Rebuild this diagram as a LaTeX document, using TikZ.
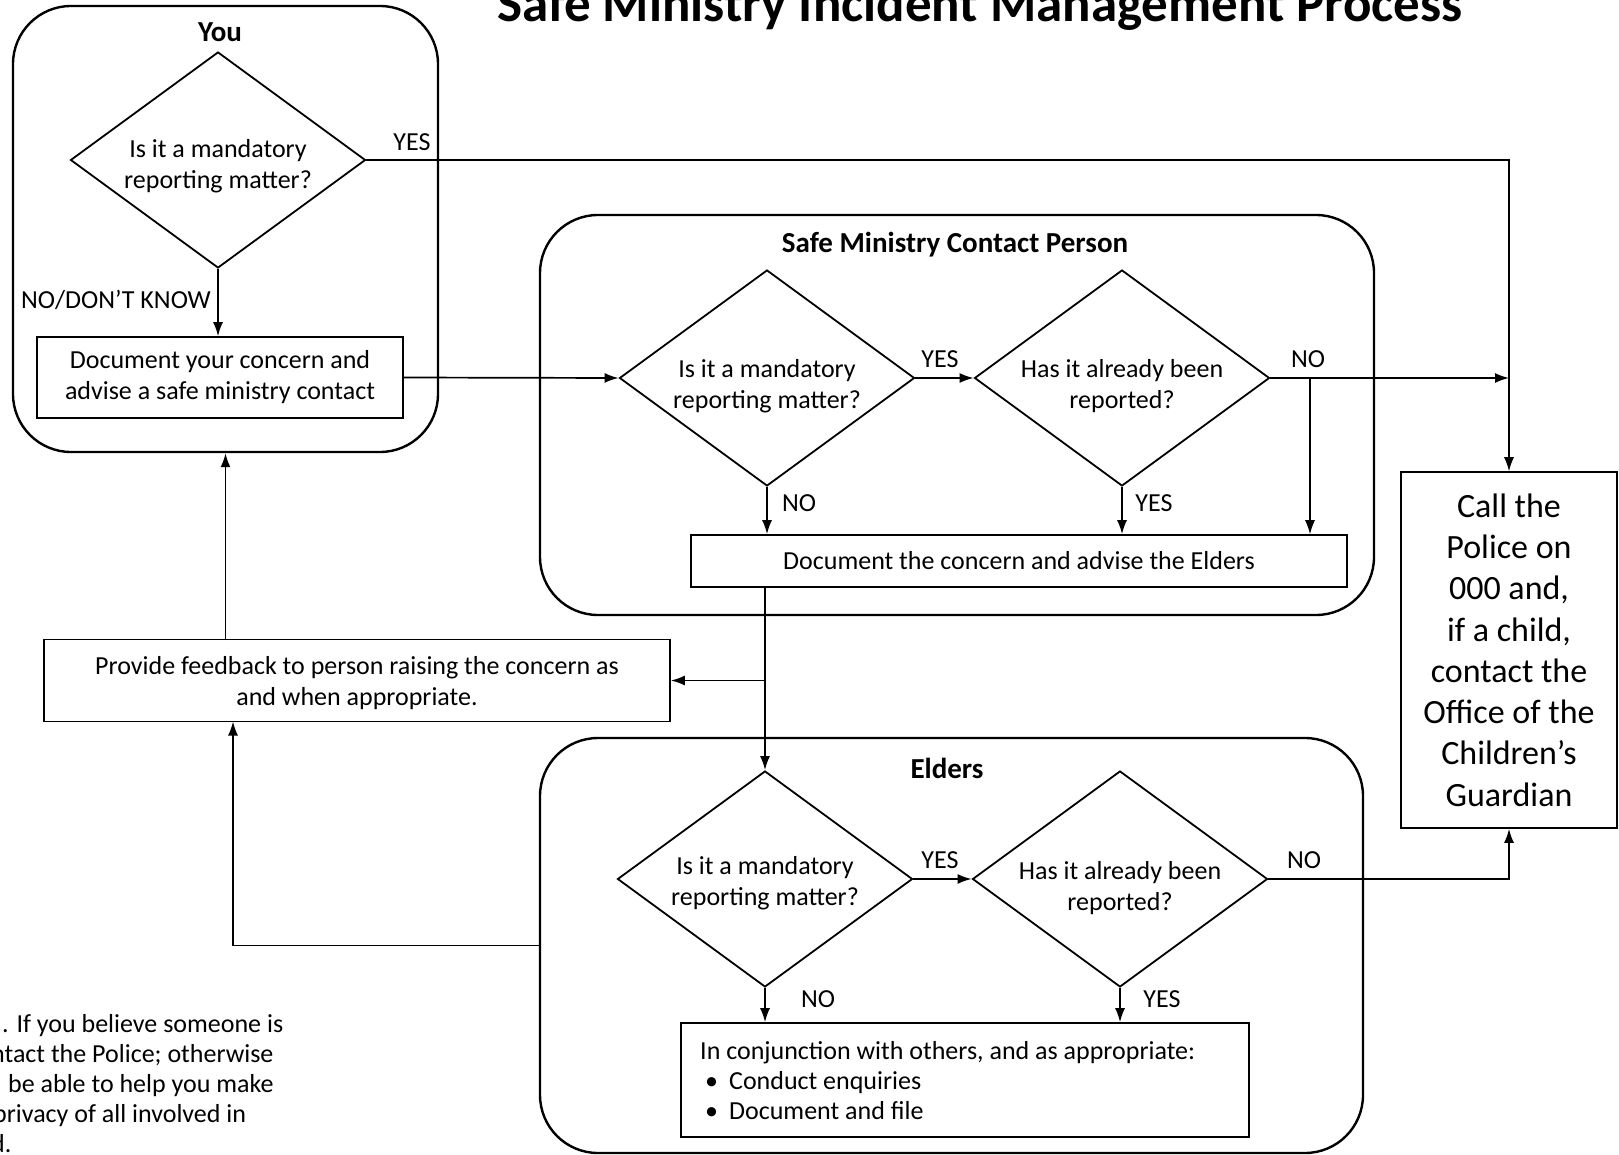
\documentclass[tikz,border=0pt]{standalone}
\usepackage{fontspec}
\setmainfont{Carlito}
\usetikzlibrary{shapes.geometric,arrows.meta}

\begin{document}
\begin{tikzpicture}[x=1pt,y=-1pt,
   every node/.style={inner sep=0pt,font=\fontsize{26}{31}\selectfont},
   lane/.style={draw,line width=2.4pt,rounded corners=58pt},
   box/.style={draw,line width=1.6pt,align=center},
   decision/.style={draw,diamond,line width=1.8pt,align=center,aspect=1.36,
      inner xsep=-20pt,minimum width=295pt,minimum height=216pt,text height=66pt},
   head/.style={font=\fontsize{29}{34}\selectfont\bfseries},
   conn/.style={line width=1.7pt,-{Latex[length=14pt,width=10pt]}},
   longconn/.style={line width=1.2pt,-{Latex[length=14pt,width=10pt]}}]

\clip (0,0) rectangle (1619,1155);
\fill[white] (0,0) rectangle (1619,1155);

\node[anchor=base,font=\fontsize{53}{60}\selectfont\bfseries] (title) at (980,22)
   {Safe Ministry Incident Management Process};

% swim lanes
\node[lane,minimum width=425pt,minimum height=446pt] (you) at (225.5,229) {};
\node[lane,minimum width=834pt,minimum height=400pt] (smcp) at (957,415) {};
\node[lane,minimum width=823pt,minimum height=415pt] (elders) at (951.5,945.5) {};
\node[head] (youhead) at (220,32) {You};
\node[head] (smcphead) at (955,245) {Safe Ministry Contact Person};
\node[head] (eldershead) at (947,768) {Elders};

% you
\node[decision,text height=62pt] (dY) at (218,160) {Is it a mandatory\\reporting matter?};
\node[box,minimum width=366pt,minimum height=81pt] (docY) at (220,377.5)
   {Document your concern and\\advise a safe ministry contact};

% safe ministry contact person
\node[decision] (dA) at (767,378) {Is it a mandatory\\reporting matter?};
\node[decision] (dB) at (1122,378) {Has it already been\\reported?};
\node[box,minimum width=656pt,minimum height=52pt] (docE) at (1019,561)
   {Document the concern and advise the Elders};
\coordinate (nojoin) at (1310,378);

% elders
\node[decision,text height=58pt] (dC) at (765,879) {Is it a mandatory\\reporting matter?};
\node[decision,text height=68pt] (dD) at (1120,879) {Has it already been\\reported?};
\node[box,minimum width=568pt,minimum height=114pt] (docL) at (965,1080) {};
\node[anchor=west,align=left,font=\fontsize{26}{30}\selectfont] (docLtext) at (700,1081)
   {In conjunction with others, and as appropriate:\\
    \hspace*{5pt}\textbullet\hspace{11pt}Conduct enquiries\\
    \hspace*{5pt}\textbullet\hspace{11pt}Document and file};

\node[box,minimum width=626pt,minimum height=82pt,text height=54pt] (fb) at (357,680.5)
   {Provide feedback to person raising the concern as\\and when appropriate.};
\coordinate (fbin) at (233,721.5);

\node[box,minimum width=216pt,minimum height=356pt,font=\fontsize{34}{41.3}\selectfont]
   (police) at (1509,650)
   {Call the\\Police on\\000 and,\\if a child,\\contact the\\Office of the\\Children’s\\Guardian};

% connectors
\draw[conn] (dY.south) -- (dY.south |- docY.north);
\draw[longconn] (dY.east) -| (police.north);
\draw[conn] (docY.east) -- (dA.west);
\draw[conn] (dA.east) -- (dB.west);
\draw[conn] (dB.east) -- (dB.east -| police.north);
\draw[longconn] (nojoin) -- (nojoin |- docE.north);
\draw[conn] (dA.south) -- (dA.south |- docE.north);
\draw[conn] (dB.south) -- (dB.south |- docE.north);
\draw[conn] (dC.north |- docE.south) -- (dC.north);
\draw[conn] (dC.north |- fb.east) -- (fb.east);
\draw[conn] (you.south |- fb.north) -- (you.south);
\draw[conn] (elders.west) -| (fbin);
\draw[conn] (dC.east) -- (dD.west);
\draw[conn] (dD.east) -| (police.south);
\draw[conn] (dC.south) -- (dC.south |- docL.north);
\draw[conn] (dD.south) -- (dD.south |- docL.north);

% labels
\node[anchor=east] (lnodk) at (211,300) {NO/DON’T KNOW};
\node (lyes1) at (412,142) {YES};
\node (lyes2) at (940,359) {YES};
\node (lno2) at (1308,359) {NO};
\node (lno3) at (799,503) {NO};
\node (lyes3) at (1154,503) {YES};
\node (lyes4) at (940,860) {YES};
\node (lno4) at (1304,860) {NO};
\node (lno5) at (818,999) {NO};
\node (lyes5) at (1162,999) {YES};

% note, cut at the left edge
\node[anchor=base west] (note1) at (2,1032) {. If you believe someone is};
\node[anchor=base west] (note2) at (-9,1062) {ntact the Police; otherwise};
\node[anchor=base west] (note3) at (8,1092) {be able to help you make};
\node[anchor=base west] (note4) at (-7,1122) {privacy of all involved in};
\node[anchor=base west] (note5) at (-9,1152) {d.};
\end{tikzpicture}
\end{document}
